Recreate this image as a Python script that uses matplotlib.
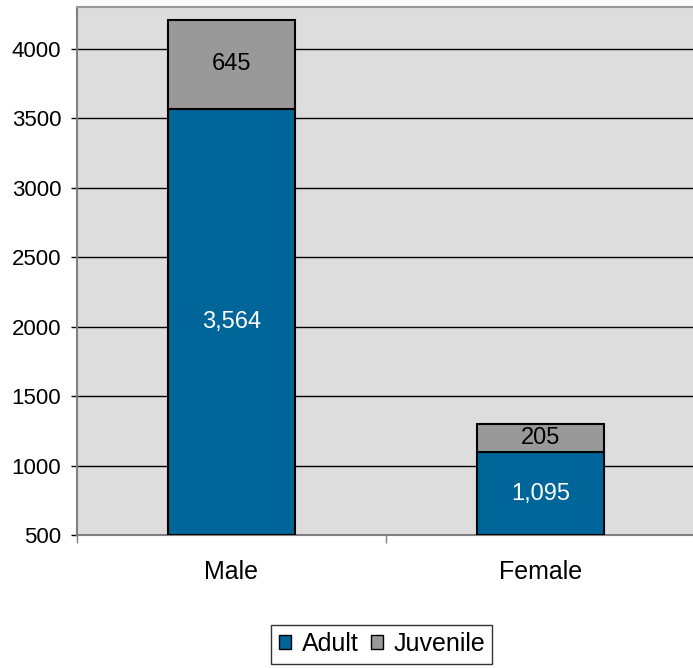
import matplotlib
matplotlib.use("Agg")
import matplotlib.pyplot as plt
from matplotlib.patches import Patch

categories = ["Male", "Female"]
adult = [3564, 1095]
juvenile = [645, 205]
series_names = ["Adult", "Juvenile"]
yticks = [500, 1000, 1500, 2000, 2500, 3000, 3500, 4000]

plt.rcParams['font.family'] = ['Liberation Sans', 'DejaVu Sans']

fig = plt.figure(figsize=(6.93, 6.68), dpi=100)
ax = fig.add_axes([77/693, (668-535)/668, 618/693, (535-7)/668])
ax.set_facecolor('#DDDDDD')

blue = '#006699'
gray = '#999999'
x = list(range(len(categories)))
w = 0.41
ax.bar(x, [a - 500 for a in adult], bottom=500, width=w, color=blue, edgecolor='black', linewidth=1.5, zorder=3)
ax.bar(x, juvenile, bottom=adult, width=w, color=gray, edgecolor='black', linewidth=1.5, zorder=3)

for i in x:
    ax.text(i, (500 + adult[i]) / 2, f"{adult[i]:,}", ha='center', va='center', color='white', fontsize=17, zorder=4)
    ax.text(i, adult[i] + juvenile[i] / 2, f"{juvenile[i]:,}", ha='center', va='center', color='black', fontsize=17, zorder=4)

ax.set_ylim(500, 4300)
ax.set_xlim(-0.5, 1.5)
ax.set_yticks(yticks)
ax.set_yticklabels([str(t) for t in yticks], fontsize=16)
ax.yaxis.grid(True, color='black', linewidth=1.0, zorder=1)
ax.set_axisbelow(True)

ax.set_xticks([-0.5, 0.5, 1.5])
ax.set_xticklabels([])
ax.tick_params(axis='x', length=6, width=1, color='#808080', direction='out')
ax.tick_params(axis='y', length=4.3, width=1, color='black', direction='out', pad=7)
for c, lab in zip(x, categories):
    ax.text(c, -0.070, lab, transform=ax.get_xaxis_transform(), ha='center', va='center', fontsize=18)

ax.spines['right'].set_visible(False)
ax.spines['top'].set_color('#999999')
ax.spines['top'].set_linewidth(1.5)
ax.spines['left'].set_color('#808080')
ax.spines['left'].set_linewidth(1.5)
ax.spines['bottom'].set_color('#808080')
ax.spines['bottom'].set_linewidth(1.5)

handles = [Patch(facecolor=blue, edgecolor='black', label=series_names[0]),
           Patch(facecolor=gray, edgecolor='black', label=series_names[1])]
leg = fig.legend(handles=handles, loc='center', bbox_to_anchor=(382/693, 1 - 644/668), ncol=2,
                 fontsize=18, frameon=True, fancybox=False, handlelength=0.5, handleheight=0.5,
                 handletextpad=0.4, columnspacing=0.5, borderpad=0.3, borderaxespad=0)
leg.get_frame().set_edgecolor('black')
leg.get_frame().set_linewidth(1.0)

fig.savefig('out.png', dpi=100)
